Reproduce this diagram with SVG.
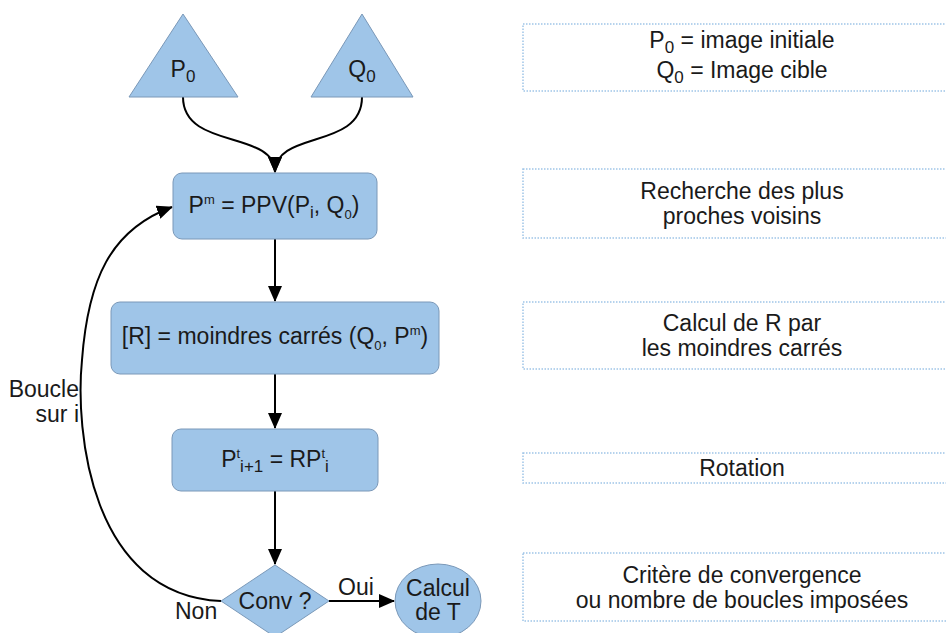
<svg xmlns="http://www.w3.org/2000/svg" width="946" height="633" viewBox="0 0 946 633">
<style>
.n{fill:#9fc5e8;stroke:#7a98b8;stroke-width:1}
.t{font-family:"Liberation Sans",Arial,sans-serif;font-size:23px;fill:#1a1a1a;text-anchor:middle}
.l{font-family:"Liberation Sans",Arial,sans-serif;font-size:23px;fill:#1a1a1a}
.c{fill:none;stroke:#000;stroke-width:2}
.d{fill:#fff;stroke:#9fc5e8;stroke-width:1.5;stroke-dasharray:1.5 1.5}
.s{font-size:17px}
.x{font-size:13px}
</style>
<defs>
<marker id="ah" markerWidth="16" markerHeight="14" refX="15" refY="7" orient="auto" markerUnits="userSpaceOnUse">
<path d="M0,0 L16,7 L0,14 Z" fill="#000"/>
</marker>
</defs>
<rect width="946" height="633" fill="#fff"/>

<g id="connectors">
<path class="c" d="M183,97 C183,150 275,130 275,172" marker-end="url(#ah)"/>
<path class="c" d="M362,97 C362,150 275,130 275,172" marker-end="url(#ah)"/>
<path class="c" d="M275,239 L275,301" marker-end="url(#ah)"/>
<path class="c" d="M275,374 L275,428" marker-end="url(#ah)"/>
<path class="c" d="M275,491 L275,564" marker-end="url(#ah)"/>
<path class="c" d="M329,601 L394,601" marker-end="url(#ah)"/>
<path class="c" d="M221,601 C90,595 75,430 82,360 C88,280 110,230 172,207" marker-end="url(#ah)"/>
<text class="l" x="338" y="595">Oui</text>
<text class="l" x="175" y="619">Non</text>
<text class="l" x="79" y="397" text-anchor="end">Boucle</text>
<text class="l" x="79" y="422" text-anchor="end">sur i</text>
</g>

<g id="P0">
<polygon class="n" points="183,14 238,97 129,97"/>
<text class="t" x="183" y="77">P<tspan class="s" dy="5">0</tspan></text>
</g>
<g id="Q0">
<polygon class="n" points="362,14 413,97 311,97"/>
<text class="t" x="362" y="77">Q<tspan class="s" dy="5">0</tspan></text>
</g>
<g id="ppv">
<rect class="n" x="173" y="173" width="204" height="66" rx="9"/>
<text class="t" x="274" y="213">P<tspan class="x" dy="-9">m</tspan><tspan dy="9"> = PPV(P</tspan><tspan class="s" dy="5">i</tspan><tspan dy="-5">, Q</tspan><tspan class="x" dy="6">0</tspan><tspan dy="-6">)</tspan></text>
</g>
<g id="mc">
<rect class="n" x="111" y="302" width="328" height="72" rx="9"/>
<text class="t" x="275" y="344">[R] = moindres carrés (Q<tspan class="x" dy="6">0</tspan><tspan dy="-6">, P</tspan><tspan class="x" dy="-9">m</tspan><tspan dy="9">)</tspan></text>
</g>
<g id="rot">
<rect class="n" x="172" y="429" width="206" height="62" rx="9"/>
<text class="t" x="275" y="467">P<tspan class="x" dy="-9">t</tspan><tspan class="s" dy="14">i+1</tspan><tspan dy="-5"> = RP</tspan><tspan class="x" dy="-9">t</tspan><tspan class="s" dy="14">i</tspan></text>
</g>
<g id="conv">
<polygon class="n" points="275,565 329,601 275,637 221,601"/>
<text class="t" x="275" y="609">Conv ?</text>
</g>
<g id="calcul">
<ellipse class="n" cx="438" cy="601" rx="43" ry="37"/>
<text class="t" x="438" y="596">Calcul</text>
<text class="t" x="438" y="620">de T</text>
</g>

<g id="note1">
<rect class="d" x="523" y="24" width="440" height="67"/>
<text class="t" x="742" y="48">P<tspan class="s" dy="5">0</tspan><tspan dy="-5"> = image initiale</tspan></text>
<text class="t" x="742" y="78">Q<tspan class="s" dy="5">0</tspan><tspan dy="-5"> = Image cible</tspan></text>
</g>
<g id="note2">
<rect class="d" x="523" y="169" width="440" height="69"/>
<text class="t" x="742" y="199">Recherche des plus</text>
<text class="t" x="742" y="224">proches voisins</text>
</g>
<g id="note3">
<rect class="d" x="523" y="302" width="440" height="67"/>
<text class="t" x="742" y="331">Calcul de R par</text>
<text class="t" x="742" y="356">les moindres carrés</text>
</g>
<g id="note4">
<rect class="d" x="523" y="453" width="440" height="30"/>
<text class="t" x="742" y="476">Rotation</text>
</g>
<g id="note5">
<rect class="d" x="523" y="553" width="440" height="68"/>
<text class="t" x="742" y="583">Critère de convergence</text>
<text class="t" x="742" y="608">ou nombre de boucles imposées</text>
</g>
</svg>
